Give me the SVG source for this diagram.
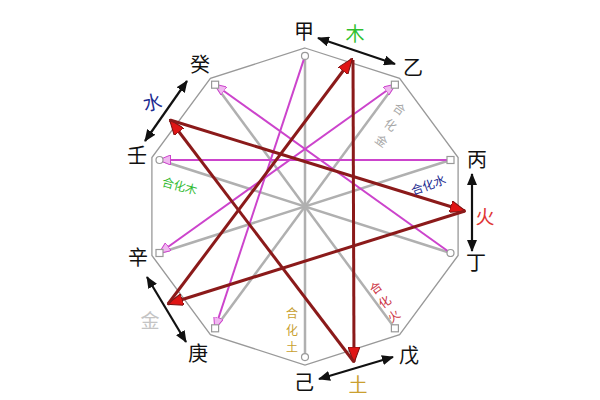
<svg xmlns="http://www.w3.org/2000/svg" width="600" height="400" viewBox="0 0 600 400">
<style>
.stem{font-family:"Noto Sans CJK SC","Noto Sans CJK JP",sans-serif;font-size:20px;fill:#111;text-anchor:middle;dominant-baseline:central}
.el{font-family:"Noto Sans CJK SC","Noto Sans CJK JP",sans-serif;font-size:19px;text-anchor:middle;dominant-baseline:central}
.sm{font-family:"Noto Sans CJK SC","Noto Sans CJK JP",sans-serif;font-size:12px;text-anchor:middle;dominant-baseline:central}
.gray{stroke:#b0b0b0;stroke-width:2.5;fill:none}
.mag{stroke:#cc44cc;stroke-width:2;fill:none}
.red{stroke:#8b1a1a;stroke-width:3;fill:none}
.blk{stroke:#111;stroke-width:2.2;fill:none}
.mk{fill:#fff;stroke:#999;stroke-width:1.2}
</style>
<defs>
<marker id="ah-red" viewBox="0 0 16 12" refX="15" refY="6" markerWidth="16" markerHeight="12" markerUnits="userSpaceOnUse" orient="auto">
<path d="M0,0 L16,6 L0,12 z" fill="#e01515" stroke="#7a1010" stroke-width="1"/>
</marker>
<marker id="ah-blk" viewBox="0 0 12 10" refX="11" refY="5" markerWidth="12" markerHeight="10" markerUnits="userSpaceOnUse" orient="auto-start-reverse">
<path d="M0,0 L12,5 L0,10 z" fill="#111"/>
</marker>
<marker id="ah-mag" viewBox="0 0 12 10" refX="11" refY="5" markerWidth="12" markerHeight="10" markerUnits="userSpaceOnUse" orient="auto-start-reverse">
<path d="M0,0 L12,5 L0,10 z" fill="#f0b8f0" stroke="#cc44cc" stroke-width="1"/>
</marker>
</defs>
<rect width="600" height="400" fill="#fff"/>
<g id="decagon">
<polygon points="305,48 399.6,78.3 458.1,157.5 458.1,255.5 399.6,334.7 305,365 210.4,334.7 151.9,255.5 151.9,157.5 210.4,78.3" fill="none" stroke="#999" stroke-width="1.3"/>
</g>
<g id="connectors">
<g id="combine-lines">
<line class="gray" x1="305" y1="55.9" x2="305" y2="357.1"/>
<line class="gray" x1="394.9" y1="84.7" x2="215.1" y2="328.3"/>
<line class="gray" x1="450.5" y1="160" x2="159.5" y2="253"/>
<line class="gray" x1="450.5" y1="253" x2="159.5" y2="160"/>
<line class="gray" x1="394.9" y1="328.3" x2="215.1" y2="84.7"/>
</g>
<g id="clash-lines">
<line class="mag" x1="305" y1="55.9" x2="215.1" y2="328.3" marker-end="url(#ah-mag)"/>
<line class="mag" x1="159.5" y1="253" x2="394.9" y2="84.7" marker-start="url(#ah-mag)" marker-end="url(#ah-mag)"/>
<line class="mag" x1="450.5" y1="160" x2="159.5" y2="160" marker-end="url(#ah-mag)"/>
<line class="mag" x1="450.5" y1="253" x2="215.1" y2="84.7" marker-end="url(#ah-mag)"/>
</g>
<g id="overcome-arrows">
<line class="red" x1="353" y1="60" x2="354" y2="362" marker-end="url(#ah-red)"/>
<line class="red" x1="354" y1="362" x2="170" y2="120" marker-end="url(#ah-red)"/>
<line class="red" x1="170" y1="120" x2="465" y2="211" marker-end="url(#ah-red)"/>
<line class="red" x1="465" y1="211" x2="168" y2="304" marker-end="url(#ah-red)"/>
<line class="red" x1="168" y1="304" x2="352" y2="59" marker-end="url(#ah-red)"/>
</g>
<g id="pair-arrows">
<line class="blk" x1="318" y1="38" x2="395" y2="64" marker-start="url(#ah-blk)" marker-end="url(#ah-blk)"/>
<line class="blk" x1="472" y1="174" x2="472" y2="251" marker-start="url(#ah-blk)" marker-end="url(#ah-blk)"/>
<line class="blk" x1="393" y1="357" x2="319" y2="379" marker-start="url(#ah-blk)" marker-end="url(#ah-blk)"/>
<line class="blk" x1="147" y1="277" x2="186" y2="342" marker-start="url(#ah-blk)" marker-end="url(#ah-blk)"/>
<line class="blk" x1="145" y1="141" x2="187" y2="81" marker-start="url(#ah-blk)" marker-end="url(#ah-blk)"/>
</g>
</g>
<g id="end-markers">
<circle class="mk" cx="305" cy="55.9" r="3.5"/>
<rect class="mk" x="391.4" y="81.2" width="7" height="7"/>
<rect class="mk" x="447" y="156.5" width="7" height="7"/>
<circle class="mk" cx="450.5" cy="253" r="3.5"/>
<rect class="mk" x="391.4" y="324.8" width="7" height="7"/>
<circle class="mk" cx="305" cy="357.1" r="3.5"/>
<rect class="mk" x="211.6" y="324.8" width="7" height="7"/>
<rect class="mk" x="156" y="249.5" width="7" height="7"/>
<circle class="mk" cx="159.5" cy="160" r="3.5"/>
<rect class="mk" x="211.6" y="81.2" width="7" height="7"/>
</g>
<g id="n-jia"><text class="stem" x="304" y="30">甲</text></g>
<g id="n-yi"><text class="stem" x="413" y="66">乙</text></g>
<g id="n-bing"><text class="stem" x="477" y="158">丙</text></g>
<g id="n-ding"><text class="stem" x="476" y="261">丁</text></g>
<g id="n-wu"><text class="stem" x="409" y="354">戊</text></g>
<g id="n-ji"><text class="stem" x="304" y="381">己</text></g>
<g id="n-geng"><text class="stem" x="198" y="352">庚</text></g>
<g id="n-xin"><text class="stem" x="138" y="256">辛</text></g>
<g id="n-ren"><text class="stem" x="137" y="154">壬</text></g>
<g id="n-gui"><text class="stem" x="200" y="63">癸</text></g>
<g id="e-mu"><text class="el" x="355" y="32" fill="#2fbf2f">木</text></g>
<g id="e-huo"><text class="el" x="485" y="215" fill="#e03535">火</text></g>
<g id="e-tu"><text class="el" x="358" y="383" fill="#caa030">土</text></g>
<g id="e-jin"><text class="el" x="150" y="319" fill="#c4c4c4">金</text></g>
<g id="e-shui"><text class="el" x="152" y="101" fill="#1c2a90" transform="rotate(-12 152 101)">水</text></g>
<g id="l-jin">
<text class="sm" fill="#a8a8a8" transform="translate(400,108) rotate(36)">合</text>
<text class="sm" fill="#a8a8a8" transform="translate(391,124) rotate(36)">化</text>
<text class="sm" fill="#a8a8a8" transform="translate(382,140) rotate(36)">金</text>
</g>
<g id="l-shui"><text class="sm" fill="#1c2a90" transform="translate(428,184) rotate(-20)">合化水</text></g>
<g id="l-mu"><text class="sm" fill="#33bb33" transform="translate(180,185) rotate(15)">合化木</text></g>
<g id="l-tu">
<text class="sm" fill="#c8a030" x="292" y="312">合</text>
<text class="sm" fill="#c8a030" x="292" y="329">化</text>
<text class="sm" fill="#c8a030" x="292" y="346">土</text>
</g>
<g id="l-huo">
<text class="sm" fill="#cc3344" transform="translate(375,287) rotate(-36)">合</text>
<text class="sm" fill="#cc3344" transform="translate(384,301) rotate(-36)">化</text>
<text class="sm" fill="#cc3344" transform="translate(393,315) rotate(-36)">火</text>
</g>
</svg>
